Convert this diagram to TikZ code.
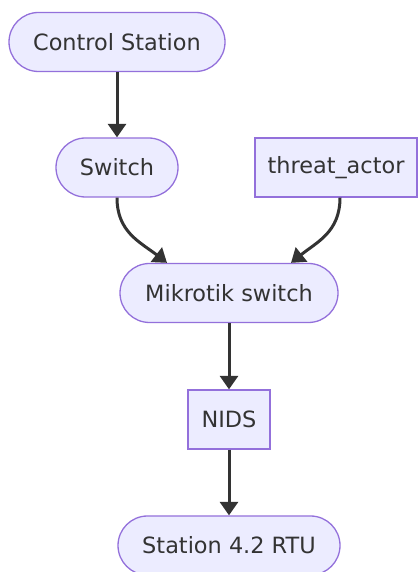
\documentclass[tikz,border=0pt]{standalone}
\usepackage{fontspec}
\setmainfont{DejaVu Sans}
\usetikzlibrary{arrows.meta,calc}
\definecolor{nodefill}{HTML}{ECECFF}
\definecolor{nodeline}{HTML}{9370DB}
\definecolor{edgeline}{HTML}{333333}
\begin{document}
\begin{tikzpicture}[x=1pt,y=1pt,
  base/.style={draw=nodeline, fill=nodefill, line width=1.3pt, text=edgeline,
    font=\fontsize{22.4}{27}\selectfont, inner sep=0pt, minimum height=59pt},
  stadium/.style={base, rectangle, rounded corners=29.5pt},
  boxnode/.style={base, rectangle},
  flow/.style={draw=edgeline, line width=3pt,
    -{Triangle[length=13.5pt,width=18pt]}}]
  \useasboundingbox (0,0) rectangle (418,572);

  \node[stadium, minimum width=216pt] (cs) at (117,530) {Control Station};
  \node[stadium, minimum width=122pt] (sw) at (117,404.5) {Switch};
  \node[boxnode, minimum width=162pt] (ta) at (336,404.5) {threat\_actor};
  \node[stadium, minimum width=218pt] (mk) at (229,279) {Mikrotik switch};
  \node[boxnode, minimum width=82pt] (nids) at (229,152.5) {NIDS};
  \node[stadium, minimum width=222pt] (rtu) at (229,26.5) {Station 4.2 RTU};

  \coordinate (mkl) at ($(mk.north)+(-62,0)$);
  \coordinate (mkr) at ($(mk.north)+(62,0)$);
  \coordinate (tab) at (ta.south -| 340,0);

  \draw[flow] (cs.south) -- (sw.north);
  \draw[flow] (sw.south) .. controls (117,340) and (140,330) .. (mkl);
  \draw[flow] (tab) .. controls (340,340) and (317,330) .. (mkr);
  \draw[flow] (mk.south) -- (nids.north);
  \draw[flow] (nids.south) -- (rtu.north);
\end{tikzpicture}
\end{document}
